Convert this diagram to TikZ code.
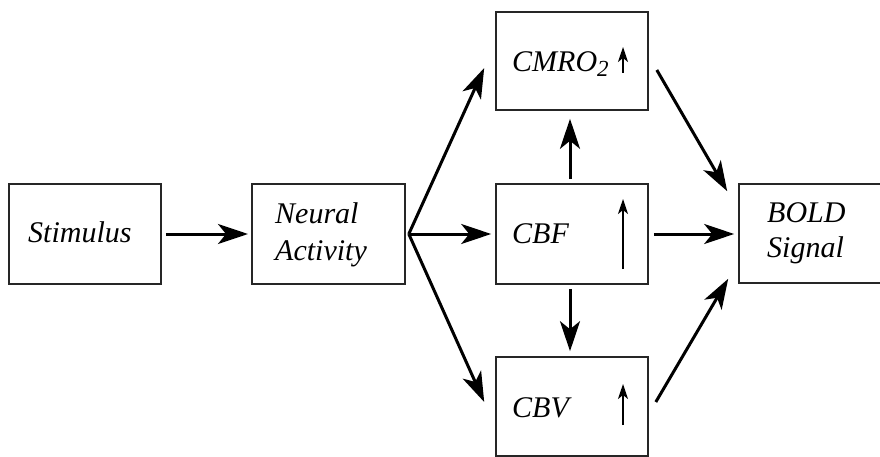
\documentclass[tikz,border=0pt]{standalone}
\usepackage{fontspec}
\setmainfont{Liberation Serif}
\usetikzlibrary{arrows.meta}
\begin{document}
\begin{tikzpicture}[x=1pt,y=-1pt,
  box/.style={draw=black!85, line width=1.6pt, minimum width=152pt, minimum height=100pt, inner sep=0pt},
  lbl/.style={anchor=base west, inner sep=0pt, font=\fontsize{30}{37}\selectfont\itshape, align=left},
  arr/.style={line width=3pt, -{Stealth[length=30pt,width=20pt,inset=8pt]}},
  rise/.style={line width=1.9pt, -{Stealth[length=15pt,width=10pt,inset=4pt]}}]
\useasboundingbox (0,0) rectangle (880,457);
\clip (0,0) rectangle (880,457);
\fill[white] (0,0) rectangle (880,457);

% boxes
\node[box] (stim) at (85,234) {};
\node[box, minimum width=153pt] (na) at (328.5,234) {};
\node[box, minimum height=98pt] (cmro) at (572,61) {};
\node[box] (cbf) at (572,234) {};
\node[box, minimum height=99pt] (cbv) at (572,406.5) {};
\node[box, minimum width=161pt, minimum height=99pt] (bold) at (819.5,233.5) {};

% labels (two-line labels are anchored on the baseline of their last line)
\node[lbl] (tstim) at (28,242) {Stimulus};
\node[lbl] (tna) at (275,260) {Neural\\Activity};
\node[lbl] (tcmro) at (512,72) {CMRO\raisebox{-0.3ex}{\fontsize{23}{23}\selectfont 2}};
\node[lbl] (tcbf) at (512,243) {CBF};
\node[lbl] (tcbv) at (512,417) {CBV};
\node[lbl, font=\fontsize{30}{35}\selectfont\itshape] (tbold) at (767,257) {BOLD\\Signal};

% small "increase" arrows inside the boxes
\coordinate (c1) at (623,73);
\coordinate (c2) at (623,47);
\draw[rise] (c1) -- (c2);
\coordinate (f1) at (623,269);
\coordinate (f2) at (623,199);
\draw[rise] (f1) -- (f2);
\coordinate (v1) at (623,425);
\coordinate (v2) at (623,384);
\draw[rise] (v1) -- (v2);

% main flow
\draw[arr, shorten <=4pt, shorten >=4pt] (stim.east) -- (na.east -| 252,0) ;
\coordinate (fan) at ([xshift=3pt]na.east);
\draw[arr] (fan) -- ([shift={(-11,7)}]cmro.west);
\draw[arr, shorten >=4pt] (fan) -- (cbf.west);
\draw[arr] (fan) -- ([shift={(-11,-4.5)}]cbv.west);

\draw[arr, shorten <=4pt, shorten >=8pt] ([xshift=-2pt]cbf.north) -- ([xshift=-2pt]cmro.south);
\draw[arr, shorten <=4pt, shorten >=5pt] ([xshift=-2pt]cbf.south) -- ([xshift=-2pt]cbv.north);

\draw[arr] ([shift={(8,9)}]cmro.east) -- ([shift={(-11,8)}]bold.north west);
\draw[arr, shorten <=5pt, shorten >=4pt] (cbf.east) -- (cbf.east -| bold.west);
\draw[arr] ([shift={(7,-4.5)}]cbv.east) -- ([shift={(-10,-5)}]bold.south west);
\end{tikzpicture}
\end{document}
